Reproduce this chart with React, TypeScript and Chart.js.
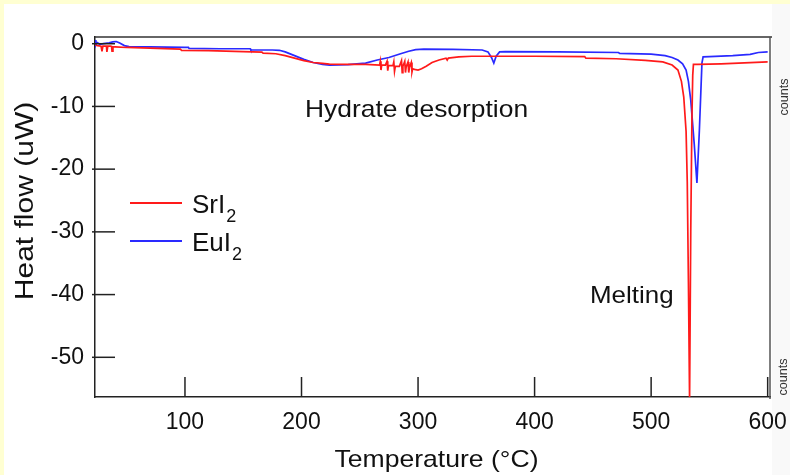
import React, { useEffect, useRef } from "react";
import { Chart, registerables } from "chart.js";
Chart.register(...registerables);

const xTicks = [100, 200, 300, 400, 500, 600];
const yTicks = [0, -10, -20, -30, -40, -50];

const srTemp = [23, 25, 28, 28.8, 29.6, 31, 32.6, 33, 33.8, 36, 37, 37.4, 38.2, 40, 50, 70, 96, 97, 120, 150, 166, 167, 178, 186, 194, 202, 210, 218, 224, 240, 255, 267, 267.6, 268.2, 268.8, 272, 273.4, 274, 274.6, 278.5, 279.2, 279.8, 280.5, 284, 285.8, 286.4, 287, 288.6, 289.2, 289.8, 291.4, 292, 292.6, 294.2, 294.8, 295.4, 297, 300, 303, 307, 312, 318, 324, 325, 326, 335, 346, 375, 400, 443, 444, 470, 495, 510, 518, 523, 526, 528, 530, 531, 532, 533, 534, 535, 535.7, 536.3, 540, 560, 580, 600];
const srFlow = [-0.2, -0.3, -0.4, -1.2, -0.4, -0.4, -0.4, -1.3, -0.4, -0.4, -0.45, -1.2, -0.5, -0.5, -0.6, -0.7, -0.85, -1.05, -1.1, -1.25, -1.35, -1.5, -1.6, -1.9, -2.3, -2.7, -3.0, -3.15, -3.25, -3.3, -3.3, -3.4, -2.8, -4.2, -3.4, -3.4, -2.8, -4.3, -3.5, -3.5, -2.9, -4.4, -3.6, -3.6, -2.7, -4.6, -3.6, -2.8, -4.6, -3.7, -2.9, -4.6, -3.8, -3.0, -4.5, -4.0, -4.1, -4.2, -4.0, -3.6, -3.0, -2.6, -2.3, -2.6, -2.3, -2.1, -2.0, -2.0, -2.0, -2.05, -2.3, -2.4, -2.65, -2.9, -3.4, -4.2, -6.0, -8.5, -14, -22, -38, -56.8, -30, -12, -5, -3.3, -3.3, -3.2, -3.05, -2.9];

const euTemp = [23, 23.5, 24.5, 27, 30, 35, 38, 41, 44, 48, 52, 70, 100, 103, 103.5, 130, 156, 156.5, 175, 181, 186, 194, 202, 210, 218, 224, 240, 255, 265, 275, 285, 292, 298, 305, 330, 355, 360, 363, 365, 367, 370, 375, 420, 472, 473, 500, 512, 518, 523, 527, 530, 532, 534, 537, 539.3, 541.4, 543.6, 544.6, 550, 570, 585, 592, 600];
const euFlow = [0.6, -0.2, 0.2, -0.1, 0.0, 0.15, 0.3, 0.35, 0.1, -0.3, -0.45, -0.5, -0.6, -0.6, -0.75, -0.8, -0.8, -1.0, -1.0, -1.05, -1.3, -1.9, -2.5, -3.0, -3.3, -3.4, -3.35, -3.1, -2.6, -2.2, -1.6, -1.2, -0.95, -0.85, -0.9, -1.0, -1.3, -2.2, -3.1, -2.0, -1.3, -1.25, -1.3, -1.4, -1.55, -1.65, -1.9, -2.2, -2.6, -3.2, -4.2, -6, -9, -16, -22.2, -13.8, -3.1, -2.1, -2.05, -1.9, -1.7, -1.4, -1.3];

const seriesNames = ["SrI", "EuI"];
const FONT = '"Liberation Sans", Arial, Helvetica, sans-serif';
const RED = "#ff1a1a";
const BLUE = "#2a2aff";

function drawText(ctx: CanvasRenderingContext2D, s: string, x: number, y: number, size: number, sx: number, align: "left" | "center", rot = 0, color = "#111") {
  ctx.save();
  ctx.font = `${size}px ${FONT}`;
  ctx.fillStyle = color;
  ctx.textBaseline = "alphabetic";
  ctx.translate(x, y);
  if (rot) ctx.rotate(rot);
  ctx.scale(sx, 1);
  const w = ctx.measureText(s).width;
  ctx.fillText(s, align === "center" ? -w / 2 : 0, 0);
  ctx.restore();
  return w * sx;
}

export default function App() {
  const ref = useRef<HTMLCanvasElement>(null);
  useEffect(() => {
    const canvas = ref.current!;
    const toXY = (t: number[], v: number[]) => t.map((x, i) => ({ x, y: v[i] }));
    const decor = {
      id: "decor",
      beforeDraw(chart: any) {
        const ctx = chart.ctx;
        ctx.save();
        ctx.fillStyle = "#FFFFD2";
        ctx.fillRect(0, 0, 790, 475);
        ctx.fillStyle = "#ffffff";
        ctx.fillRect(4, 4, 786, 471);
        ctx.fillStyle = "#F9F9F9";
        ctx.fillRect(772, 4, 18, 471);
        ctx.restore();
      },
      afterDraw(chart: any) {
        const ctx: CanvasRenderingContext2D = chart.ctx;
        const { left, right, top, bottom } = chart.chartArea;
        const xs = chart.scales.x;
        const ys = chart.scales.y;
        ctx.save();
        const line = (x1: number, y1: number, x2: number, y2: number) => {
          ctx.beginPath();
          ctx.moveTo(x1, y1);
          ctx.lineTo(x2, y2);
          ctx.stroke();
        };
        ctx.lineWidth = 1.5;
        ctx.strokeStyle = "#333";
        line(left, top, right + 2, top);
        ctx.strokeStyle = "#555";
        line(right, top, right, bottom + 2);
        ctx.strokeStyle = "#222";
        xs.ticks.forEach((t: any) => {
          const px = xs.getPixelForValue(t.value);
          line(px, bottom, px, bottom - 20);
        });
        ys.ticks.forEach((t: any) => {
          const py = ys.getPixelForValue(t.value);
          line(left - 3, py, left + 20, py);
        });
        // legend
        ctx.lineWidth = 1.8;
        ctx.strokeStyle = RED;
        line(130, 203, 182, 203);
        ctx.strokeStyle = BLUE;
        line(130, 241, 182, 241);
        let w = drawText(ctx, seriesNames[0], 192, 213, 26, 1.0, "left");
        drawText(ctx, "2", 192 + w + 1, 222, 18, 1.0, "left");
        w = drawText(ctx, seriesNames[1], 192, 251, 26, 1.0, "left");
        drawText(ctx, "2", 192 + w + 1, 260, 18, 1.0, "left");
        // annotations
        drawText(ctx, "Hydrate desorption", 305, 117, 24, 1.1, "left");
        drawText(ctx, "Melting", 590, 303, 24, 1.08, "left");
        // axis titles
        drawText(ctx, "Temperature (\u00B0C)", 436.5, 467, 24, 1.107, "center");
        drawText(ctx, "Heat flow (uW)", 33, 201, 25, 1.2, "center", -Math.PI / 2);
        // counts labels
        drawText(ctx, "counts", 788, 97, 12, 1.05, "center", -Math.PI / 2, "#333");
        drawText(ctx, "counts", 787, 377, 12, 1.05, "center", -Math.PI / 2, "#333");
        ctx.restore();
      },
    };
    const chart = new Chart(canvas, {
      type: "line",
      data: {
        datasets: [
          { label: "SrI2", data: toXY(srTemp, srFlow), borderColor: RED, borderWidth: 1.7, pointRadius: 0, tension: 0, fill: false },
          { label: "EuI2", data: toXY(euTemp, euFlow), borderColor: BLUE, borderWidth: 1.7, pointRadius: 0, tension: 0, fill: false },
        ],
      },
      options: {
        animation: false,
        responsive: false,
        devicePixelRatio: 1,
        layout: { padding: { left: 0, top: 37, right: 20, bottom: 0 } },
        plugins: { legend: { display: false }, tooltip: { enabled: false }, title: { display: false } },
        scales: {
          x: {
            type: "linear",
            min: 22.8,
            max: 602,
            afterBuildTicks: (s: any) => {
              s.ticks = xTicks.map((v) => ({ value: v }));
            },
            afterFit: (s: any) => {
              s.height = 78;
              s.paddingLeft = 0;
              s.paddingRight = 0;
            },
            grid: { display: true, drawOnChartArea: false, drawTicks: false },
            border: { display: true, color: "#222", width: 1.5 },
            ticks: { autoSkip: false, maxRotation: 0, padding: 12, color: "#111", font: { family: FONT, size: 23 } },
          },
          y: {
            type: "linear",
            min: -56.33,
            max: 1.07,
            afterBuildTicks: (s: any) => {
              s.ticks = yTicks.map((v) => ({ value: v }));
            },
            afterFit: (s: any) => {
              s.width = 95;
              s.paddingTop = 0;
              s.paddingBottom = 0;
            },
            grid: { display: true, drawOnChartArea: false, drawTicks: false },
            border: { display: true, color: "#222", width: 1.5 },
            ticks: { autoSkip: false, padding: 11, color: "#111", font: { family: FONT, size: 23 } },
          },
        },
      },
      plugins: [decor],
    } as any);
    return () => chart.destroy();
  }, []);
  return (
    <div style={{ position: "absolute", left: 0, top: 0, width: 790, height: 475 }}>
      <canvas ref={ref} width={790} height={475} style={{ display: "block" }} />
    </div>
  );
}
